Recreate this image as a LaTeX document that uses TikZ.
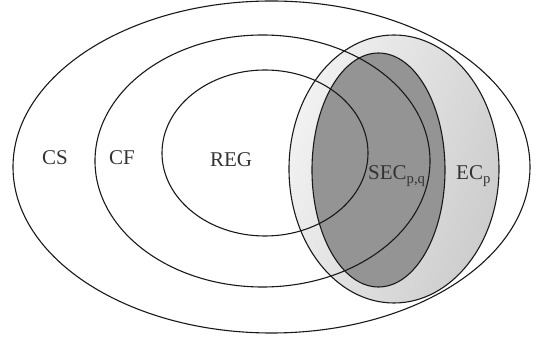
\documentclass[tikz,border=0pt]{standalone}
\usepackage{fontspec}
\setmainfont{Liberation Serif}
\usetikzlibrary{shapes.geometric}
\begin{document}
\begin{tikzpicture}[x=1pt,y=1pt,
  outline/.style={draw=black!90, line width=1.1pt},
  lbl/.style={font=\fontsize{21}{24}\selectfont, text=black!80, inner sep=0pt},
  ecfill/.style={left color=black!5, right color=black!20, shading angle=70},
  secfill/.style={fill=black!42}]
\useasboundingbox (0,0) rectangle (542,-344);
% fills
\path[ecfill] (394,-169) ellipse [x radius=105pt, y radius=134pt];
\path[secfill] (378.5,-170) ellipse [x radius=66.5pt, y radius=117pt];
% outlines
\draw[outline] (271.5,-167) ellipse [x radius=258.5pt, y radius=166pt];
\draw[outline] (262.5,-161) ellipse [x radius=167.5pt, y radius=126pt];
\draw[outline] (265,-153) ellipse [x radius=103pt, y radius=83pt];
\draw[outline] (394,-169) ellipse [x radius=105pt, y radius=134pt];
\draw[outline] (378.5,-170) ellipse [x radius=66.5pt, y radius=117pt];
% labels
\node[lbl] (cs) at (55,-158) {CS};
\node[lbl] (cf) at (122,-158) {CF};
\node[lbl] (reg) at (231,-160) {REG};
\node[lbl, anchor=base west] (sec) at (368,-180) {SEC\textsubscript{p,q}};
\node[lbl, anchor=base west] (ec) at (456,-180) {EC\textsubscript{p}};
\end{tikzpicture}
\end{document}
